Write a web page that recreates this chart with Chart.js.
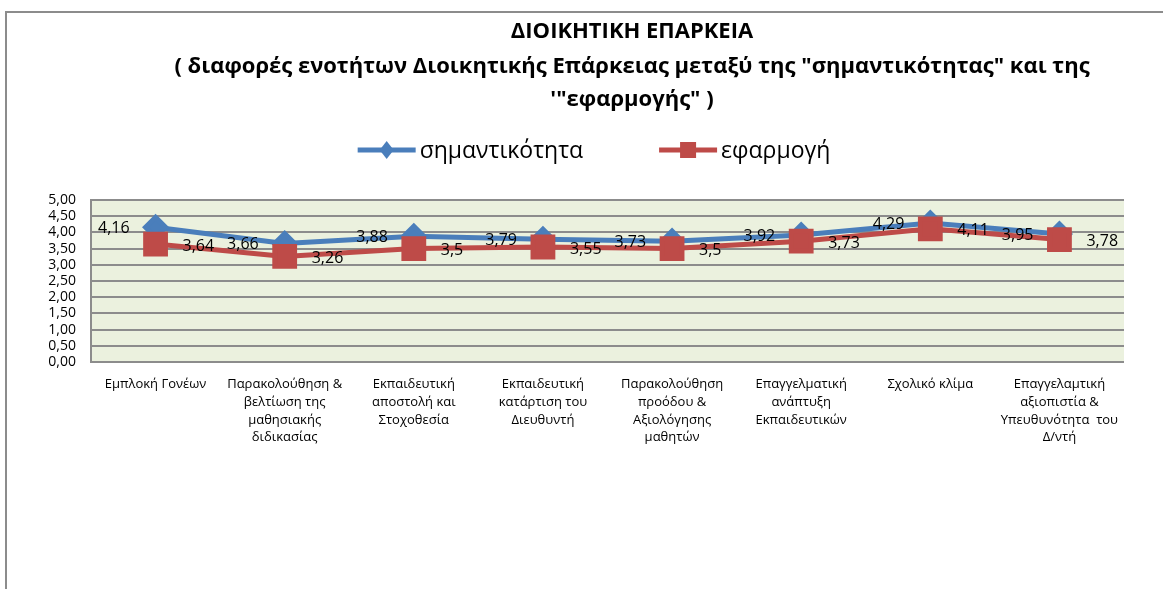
<!DOCTYPE html>
<html>
<head>
<meta charset="utf-8">
<script src="https://cdn.jsdelivr.net/npm/chart.js@4/dist/chart.umd.min.js"></script>
<style>
  html, body { margin: 0; padding: 0; background: #fff; }
  #wrap { position: relative; width: 1163px; height: 589px; overflow: hidden; }
  #frame { position: absolute; left: 5px; top: 11px; width: 1200px; height: 640px;
           border-left: 2px solid #8c8c8c; border-top: 2px solid #8c8c8c; }
  #box { position: absolute; left: 0; top: 0; width: 1163px; height: 589px; }
</style>
</head>
<body>
<div id="wrap">
  <div id="frame"></div>
  <div id="box"><canvas id="chart"></canvas></div>
</div>
<script>
// chart data
const TITLE_LINES = [
  'ΔΙΟΙΚΗΤΙΚΗ ΕΠΑΡΚΕΙΑ',
  '( διαφορές ενοτήτων Διοικητικής Επάρκειας μεταξύ της "σημαντικότητας" και της',
  '\'"εφαρμογής" )'
];

const CATEGORIES = [
  ['Εμπλοκή Γονέων'],
  ['Παρακολούθηση &', 'βελτίωση της', 'μαθησιακής', 'διδικασίας'],
  ['Εκπαιδευτική', 'αποστολή και', 'Στοχοθεσία'],
  ['Εκπαιδευτική', 'κατάρτιση του', 'Διευθυντή'],
  ['Παρακολούθηση', 'προόδου &', 'Αξιολόγησης', 'μαθητών'],
  ['Επαγγελματική', 'ανάπτυξη', 'Εκπαιδευτικών'],
  ['Σχολικό κλίμα'],
  ['Επαγγελαμτική', 'αξιοπιστία &', 'Υπευθυνότητα  του', 'Δ/ντή']
];

const SERIES_NAMES = ['σημαντικότητα', 'εφαρμογή'];
const IMPORTANCE = [4.16, 3.66, 3.88, 3.79, 3.73, 3.92, 4.29, 3.95];
const APPLICATION = [3.64, 3.26, 3.5, 3.55, 3.5, 3.73, 4.11, 3.78];

const Y_MIN = 0;
const Y_MAX = 5;
const Y_STEP = 0.5;

const BLUE = '#4a7ebb';
const RED = '#be4b48';
const FONT = '"Open Sans", "Noto Sans", sans-serif';

const commaNum = v => String(v).replace('.', ',');

// plot area fill
const plotBackground = {
  id: 'plotBackground',
  beforeDraw(chart) {
    const { ctx, chartArea: a } = chart;
    ctx.save();
    ctx.fillStyle = '#ebf1de';
    ctx.fillRect(a.left, a.top, a.right - a.left, a.bottom - a.top);
    ctx.restore();
  }
};

// title + legend drawn at fixed spots, like the Excel original
const titleAndLegend = {
  id: 'titleAndLegend',
  afterDraw(chart) {
    const ctx = chart.ctx;
    ctx.save();
    ctx.fillStyle = '#000';
    ctx.textAlign = 'center';
    ctx.textBaseline = 'middle';
    ctx.font = 'bold 22px ' + FONT;
    const lineY = [32, 67, 100];
    TITLE_LINES.forEach((t, i) => ctx.fillText(t, 632, lineY[i]));

    // legend
    ctx.font = '23px ' + FONT;
    const lineLen = 58, gap = 4, between = 76, y = 150;
    const items = chart.data.datasets.map(ds => ({
      ds, w: lineLen + gap + ctx.measureText(ds.label).width
    }));
    const total = items.reduce((s, it) => s + it.w, 0) + between * (items.length - 1);
    let x = 594 - total / 2;
    items.forEach(({ ds }, i) => {
      ctx.strokeStyle = ds.borderColor;
      ctx.lineWidth = 5;
      ctx.beginPath();
      ctx.moveTo(x, y);
      ctx.lineTo(x + lineLen, y);
      ctx.stroke();
      ctx.fillStyle = ds.pointBackgroundColor;
      const cx = x + lineLen / 2;
      if (ds.pointStyle === 'rectRot') {
        ctx.beginPath();
        ctx.moveTo(cx, y - 9);
        ctx.lineTo(cx + 7, y);
        ctx.lineTo(cx, y + 9);
        ctx.lineTo(cx - 7, y);
        ctx.closePath();
        ctx.fill();
      } else {
        ctx.fillRect(cx - 8, y - 8, 16, 16);
      }
      ctx.fillStyle = '#000';
      ctx.textAlign = 'left';
      ctx.fillText(ds.label, x + lineLen + gap, y + 1);
      x += items[i].w + between;
    });
    ctx.restore();
  }
};

// value labels: first series to the left of the point, second to the right
const valueLabels = {
  id: 'valueLabels',
  afterDatasetsDraw(chart) {
    const ctx = chart.ctx;
    ctx.save();
    ctx.font = '16px ' + FONT;
    ctx.fillStyle = '#000';
    ctx.textBaseline = 'middle';
    chart.data.datasets.forEach((ds, di) => {
      const meta = chart.getDatasetMeta(di);
      meta.data.forEach((pt, i) => {
        const txt = commaNum(ds.data[i]);
        if (ds.labelSide === 'left') {
          ctx.textAlign = 'right';
          ctx.fillText(txt, pt.x - 26, pt.y + 1);
        } else {
          ctx.textAlign = 'left';
          ctx.fillText(txt, pt.x + 27, pt.y + 2);
        }
      });
    });
    ctx.restore();
  }
};

new Chart(document.getElementById('chart'), {
  type: 'line',
  data: {
    labels: CATEGORIES,
    datasets: [
      {
        label: SERIES_NAMES[0],
        data: IMPORTANCE,
        borderColor: BLUE,
        backgroundColor: BLUE,
        pointBackgroundColor: BLUE,
        pointBorderColor: BLUE,
        pointStyle: 'rectRot',
        pointRadius: 10,
        borderWidth: 5,
        tension: 0,
        order: 1,
        labelSide: 'left'
      },
      {
        label: SERIES_NAMES[1],
        data: APPLICATION,
        borderColor: RED,
        backgroundColor: RED,
        pointBackgroundColor: RED,
        pointBorderColor: RED,
        pointStyle: 'rect',
        pointRadius: 14,
        borderWidth: 5,
        tension: 0,
        order: 0,
        labelSide: 'right'
      }
    ]
  },
  options: {
    responsive: true,
    maintainAspectRatio: false,
    animation: false,
    layout: { padding: { top: 200, left: 0, right: 39, bottom: 0 } },
    plugins: {
      legend: { display: false },
      title: { display: false },
      tooltip: { enabled: false }
    },
    scales: {
      x: {
        offset: true,
        grid: { display: false },
        border: { display: false },
        afterFit: s => { s.height = 227; },
        ticks: {
          color: '#000',
          maxRotation: 0,
          autoSkip: false,
          padding: 5,
          font: { family: FONT, size: 13, lineHeight: 1.38 }
        }
      },
      y: {
        min: Y_MIN,
        max: Y_MAX,
        afterFit: s => { s.width = 91; },
        grid: { color: '#8c8c8c', lineWidth: 2, drawTicks: false },
        border: { display: true, color: '#8c8c8c', width: 2 },
        ticks: {
          stepSize: Y_STEP,
          autoSkip: false,
          color: '#000',
          padding: 15,
          font: { family: FONT, size: 14, lineHeight: 1 },
          callback: v => v.toFixed(2).replace('.', ',')
        }
      }
    }
  },
  plugins: [plotBackground, titleAndLegend, valueLabels]
});
</script>
</body>
</html>
